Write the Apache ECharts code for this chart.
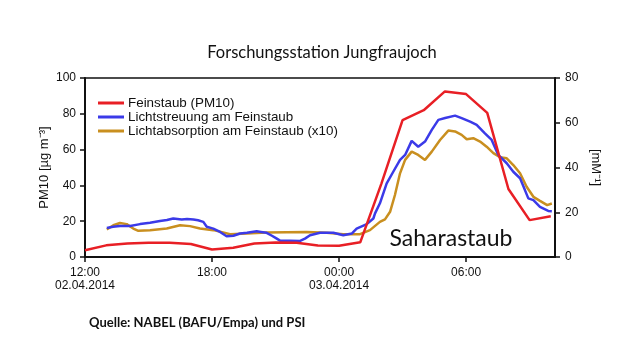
<!DOCTYPE html>
<html>
<head>
<meta charset="utf-8">
<script src="https://cdn.jsdelivr.net/npm/echarts@6/dist/echarts.min.js"></script>
<style>html,body{margin:0;padding:0;background:#fff}#c{width:640px;height:360px}</style>
</head>
<body>
<div id="c"></div>
<script>
// Hours since 12:00 on 02.04.2014
const xTickValues = [0, 6, 12, 18];
const xTickLabels = ['12:00\n02.04.2014', '18:00', '00:00\n03.04.2014', '06:00'];

// Feinstaub PM10 (left axis, µg m-3), hourly
const redHours = [0,1,2,3,4,5,6,7,8,9,10,11,12,13,14,15,16,17,18,19,20,21,22];
const redValues = [3.8,6.5,7.5,8.0,8.0,7.3,4.2,5.2,7.5,8.1,7.9,6.4,6.3,8.2,41,76.5,82,92.5,91,80.5,38,20.6,22.8];

// Lichtstreuung am Feinstaub (right axis, Mm-1)
const blueHours = [1.03,1.32,1.65,2.13,2.60,3.07,3.54,3.87,4.17,4.57,4.82,5.12,5.34,5.59,5.75,6.06,6.38,6.69,7.01,7.32,7.65,8.11,8.31,8.58,8.83,9.06,9.21,9.68,10.16,10.39,10.63,11.10,11.73,12.20,12.60,12.83,13.31,13.62,13.70,13.93,14.25,14.56,14.88,15.12,15.43,15.74,16.06,16.38,16.69,17.01,17.48,17.79,18.19,18.50,18.89,19.21,19.52,19.92,20.23,20.55,20.78,20.94,21.18,21.49,21.88,22.05];
const blueValues = [13.0,13.5,13.9,13.9,14.7,15.3,16.1,16.5,17.2,16.8,17.0,16.8,16.4,15.7,13.5,12.7,11.2,9.3,9.5,10.5,10.8,11.5,11.2,10.8,9.5,8.2,7.3,7.3,7.2,8.2,9.7,10.8,10.8,9.7,10.5,12.7,14.7,17.2,19.5,24,32.9,38.1,43.4,45.6,51.9,49.3,51.6,56.8,61.3,62.1,63.2,62.1,60.5,59.1,55.3,52.3,45.6,41.9,38.1,35.2,29.9,26.2,25.4,22.4,20.6,20.5];

// Lichtabsorption am Feinstaub x10 (right axis)
const orangeHours = [1.03,1.34,1.65,1.97,2.28,2.52,3.07,3.86,4.49,4.96,5.43,6.06,6.52,6.85,7.64,8.58,9.53,10.47,11.42,12.20,12.99,13.46,13.93,14.17,14.41,14.64,14.88,15.12,15.43,15.74,16.06,16.38,16.77,17.16,17.48,17.79,18.03,18.34,18.66,18.97,19.29,19.60,19.92,20.23,20.55,20.86,21.18,21.49,21.83,22.05];
const orangeValues = [12.3,14.2,15.2,14.7,12.7,11.7,12.0,12.7,14.2,13.8,12.7,12.0,11.0,10.2,10.5,10.9,11.1,11.2,10.8,10.2,10.2,12.0,15.7,16.8,20.2,27.7,37.4,43.4,47.1,45.6,43.4,47.1,52.3,56.5,56.1,54.6,52.6,53.1,51.6,49.3,46.4,44.6,44.1,41.1,37.4,31.4,26.9,25.1,23.2,23.9];

const seriesNames = ['Feinstaub (PM10)', 'Lichtstreuung am Feinstaub', 'Lichtabsorption am Feinstaub (x10)'];

function pairs(xs, ys) { return xs.map((x, i) => [x, ys[i]]); }

const chart = echarts.init(document.getElementById('c'), null, {renderer: 'canvas'});
const axisFont = {fontFamily: 'Liberation Sans, Arial, sans-serif', fontSize: 12, color: '#111'};
chart.setOption({
  animation: false,
  backgroundColor: '#fff',
  grid: {left: 85, right: 85, top: 78, bottom: 103, show: true, borderColor: '#111', borderWidth: 1.5, backgroundColor: 'transparent'},
  legend: {
    left: 93, top: 91, orient: 'vertical', itemGap: 0,
    icon: 'rect', itemWidth: 26, itemHeight: 3,
    textStyle: {fontFamily: 'Liberation Sans, Arial, sans-serif', fontSize: 13.4, color: '#111', lineHeight: 14, padding: [0,0,0,-1]},
    data: seriesNames
  },
  xAxis: {
    type: 'value', min: 0, max: 22.2, interval: 6,
    axisLine: {lineStyle: {color: '#111', width: 2}},
    axisTick: {show: true, length: 5, lineStyle: {color: '#111', width: 1.5}},
    splitLine: {show: false},
    axisLabel: Object.assign({}, axisFont, {margin: 9, lineHeight: 13, showMaxLabel: false,
      formatter: v => { const i = xTickValues.indexOf(v); return i >= 0 ? xTickLabels[i] : ''; }})
  },
  yAxis: [{
    type: 'value', min: 0, max: 100, interval: 20, position: 'left',
    name: 'PM10 [µg m⁻³]', nameLocation: 'middle', nameGap: 34, nameRotate: 90, nameMoveOverlap: false,
    nameTextStyle: {fontFamily: 'Liberation Sans, Arial, sans-serif', fontSize: 13, color: '#111'},
    axisLine: {show: true, lineStyle: {color: '#111', width: 2}},
    axisTick: {show: true, length: 5, lineStyle: {color: '#111', width: 1.5}},
    splitLine: {show: false},
    axisLabel: Object.assign({}, axisFont, {margin: 9})
  }, {
    type: 'value', min: 0, max: 80, interval: 20, position: 'right',
    name: '[mM⁻¹]', nameLocation: 'middle', nameGap: 32, nameRotate: -90,
    nameTextStyle: {fontFamily: 'Liberation Sans, Arial, sans-serif', fontSize: 13, color: '#111'},
    axisLine: {show: true, lineStyle: {color: '#111', width: 2}},
    axisTick: {show: true, length: 5, lineStyle: {color: '#111', width: 1.5}},
    splitLine: {show: false},
    axisLabel: Object.assign({}, axisFont, {margin: 10})
  }],
  series: [{
    name: seriesNames[0], type: 'line', yAxisIndex: 0, z: 4,
    data: pairs(redHours, redValues), showSymbol: false, symbol: 'none',
    lineStyle: {color: '#e81f25', width: 2.5}, itemStyle: {color: '#e81f25'}
  }, {
    name: seriesNames[1], type: 'line', yAxisIndex: 1, z: 3,
    data: pairs(blueHours, blueValues), showSymbol: false, symbol: 'none',
    lineStyle: {color: '#3b3ae8', width: 2.5}, itemStyle: {color: '#3b3ae8'}
  }, {
    name: seriesNames[2], type: 'line', yAxisIndex: 1, z: 2,
    data: pairs(orangeHours, orangeValues), showSymbol: false, symbol: 'none',
    lineStyle: {color: '#c98f1f', width: 2.5}, itemStyle: {color: '#c98f1f'}
  }],
  graphic: [{
    type: 'text', x: 322, y: 53,
    style: {text: 'Forschungsstation Jungfraujoch', textAlign: 'center', textVerticalAlign: 'middle',
      font: '16.5px Lato, "Open Sans", sans-serif', fill: '#111'}
  }, {
    type: 'text', x: 451, y: 239, z: 10,
    style: {text: 'Saharastaub', textAlign: 'center', textVerticalAlign: 'middle',
      font: '23px Lato, "Open Sans", sans-serif', fill: '#111'}
  }, {
    type: 'text', x: 89, y: 323,
    style: {text: 'Quelle: NABEL (BAFU/Empa) und PSI', textAlign: 'left', textVerticalAlign: 'middle',
      font: 'bold 13px Lato, "Open Sans", sans-serif', fill: '#111'}
  }]
});
</script>
</body>
</html>
